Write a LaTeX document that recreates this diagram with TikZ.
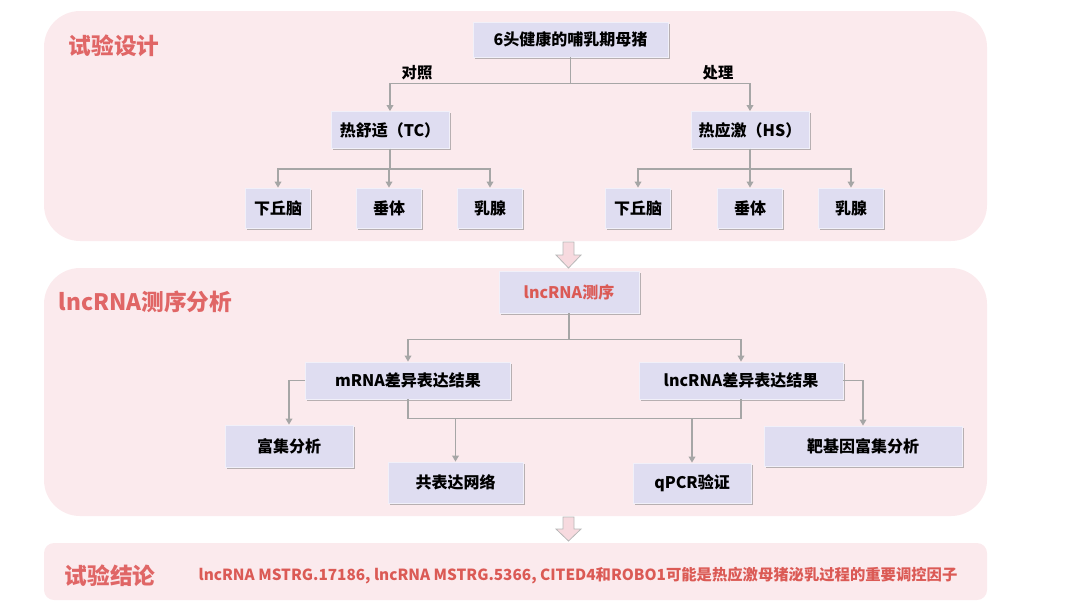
\documentclass[tikz,border=0pt]{standalone}
\usepackage{fontspec}
\setmainfont{Noto Sans CJK SC}
\usetikzlibrary{arrows.meta,positioning,shadows}

\definecolor{panelpink}{HTML}{FBEAED}
\definecolor{boxlav}{HTML}{DFDDF1}
\definecolor{titlered}{HTML}{E06666}
\definecolor{textred}{HTML}{DB5A55}
\definecolor{linegray}{HTML}{A6A6A6}
\definecolor{arrowpink}{HTML}{F7DADF}

\def\px{0.75pt}

\begin{document}
\begin{tikzpicture}[
            x=0.75pt, y=-0.75pt,
            box/.style={
                draw=white!55!boxlav,
                fill=boxlav,
                line width=0.6pt,
                inner sep=0pt,
                minimum height=37*\px,
                font=\fontsize{12}{14}\selectfont\bfseries,
                drop shadow={shadow xshift=1.4pt, shadow yshift=-1.4pt, fill=black!50, opacity=0.55}
            },
            panel/.style={
                fill=panelpink,
                rounded corners=27pt
            },
            conn/.style={
                draw=linegray,
                line width=1pt,
                -{Triangle[width=5pt,length=4.5pt]}
            },
            link/.style={
                draw=linegray,
                line width=1pt
            },
            branch/.style={
                font=\fontsize{11.5}{13}\selectfont\bfseries
            },
            heading/.style={
                anchor=west,
                text=titlered,
                font=\fontsize{17}{20}\selectfont\bfseries
            },
            bigarrow/.style={
                fill=arrowpink,
                draw=black!28,
                line width=0.6pt
            }
        ]

\useasboundingbox (0,0) rectangle (1080,608);

% Panels
            \fill[panel] (44,11) rectangle (987,241);
            \fill[panel] (44,268) rectangle (987,516);
            \fill[panel, rounded corners=7.5pt] (44,543) rectangle (987,600);

% Panel titles
            \node[heading] (hdesign) at (64,46) {试验设计};
            \node[heading] (hseq) at (54,302) {lncRNA测序分析};
            \node[heading] (hconcl) at (60,576) {试验结论};

% --- Part 1: design ---
            \node[box, minimum width=195*\px, minimum height=35*\px] (pigs) at (570.5,39.5) {6头健康的哺乳期母猪};
            \node[box, minimum width=118*\px] (tc) at (390,130) {热舒适（TC）};
            \node[box, minimum width=118*\px] (hs) at (750,130) {热应激（HS）};

            \draw[conn] (pigs.south) -- ++(0,26) -| (tc.north);
            \draw[conn] (pigs.south) -- ++(0,26) -| (hs.north);
            \node[branch] (ctrl) at (417,73) {对照};
            \node[branch] (treat) at (718,73) {处理};

% tissues under each group
            \foreach \grp/\xa/\xb/\xc in {tc/278/389/490, hs/638/750/851} {
                \node[box, minimum width=65*\px, minimum height=40*\px] (\grp-hyp) at (\xa,208) {下丘脑};
                \node[box, minimum width=65*\px, minimum height=40*\px] (\grp-pit) at (\xb,208) {垂体};
                \node[box, minimum width=65*\px, minimum height=40*\px] (\grp-mam) at (\xc,208) {乳腺};
                \foreach \part in {hyp,pit,mam} {
                    \draw[conn] (\grp.south) -- ++(0,20) -| (\grp-\part.north);
                }
            }

% --- Part 2: sequencing ---
            \node[box, minimum width=140*\px, minimum height=42*\px, text=textred] (seq) at (569,292) {lncRNA测序};
            \node[box, minimum width=205*\px] (mrna) at (408,380.5) {mRNA差异表达结果};
            \node[box, minimum width=204*\px] (lnc) at (741,380.5) {lncRNA差异表达结果};

            \draw[conn] (seq.south) -- ++(0,26) -| (mrna.north);
            \draw[conn] (seq.south) -- ++(0,26) -| (lnc.north);

            \node[box, minimum width=128*\px, minimum height=42*\px] (enrich) at (289,446) {富集分析};
            \node[box, minimum width=198*\px, minimum height=40*\px] (target) at (863,446) {靶基因富集分析};
            \node[box, minimum width=135*\px, minimum height=41*\px] (coexp) at (455.5,482.5) {共表达网络};
            \node[box, minimum width=118*\px, minimum height=40*\px] (qpcr) at (692,483) {qPCR验证};

            \draw[conn] (mrna.west) -| (enrich.north);
            \draw[conn] (lnc.east) -| (target.north);
            \draw[link] (mrna.south) -- ++(0,19) coordinate (joint) -| (lnc.south);
            \draw[conn] (joint -| coexp.north) -- (coexp.north);
            \draw[conn] (joint -| qpcr.north) -- (qpcr.north);

% Hollow arrows between panels
            \draw[bigarrow] (563,242) -- (574,242) -- (574,255) -- (581,255) -- (568.5,268) -- (556,255) -- (563,255) -- cycle;
            \draw[bigarrow] (563,517) -- (574,517) -- (574,529) -- (581,529) -- (568.5,541) -- (556,529) -- (563,529) -- cycle;

% --- Part 3: conclusion ---
            \node[anchor=west, text=textred, font=\fontsize{11.5}{13}\selectfont\bfseries] (concl) at (194,576)
                {lncRNA MSTRG.17186, lncRNA MSTRG.5366, CITED4和ROBO1可能是热应激母猪泌乳过程的重要调控因子};

        \end{tikzpicture}
\end{document}
